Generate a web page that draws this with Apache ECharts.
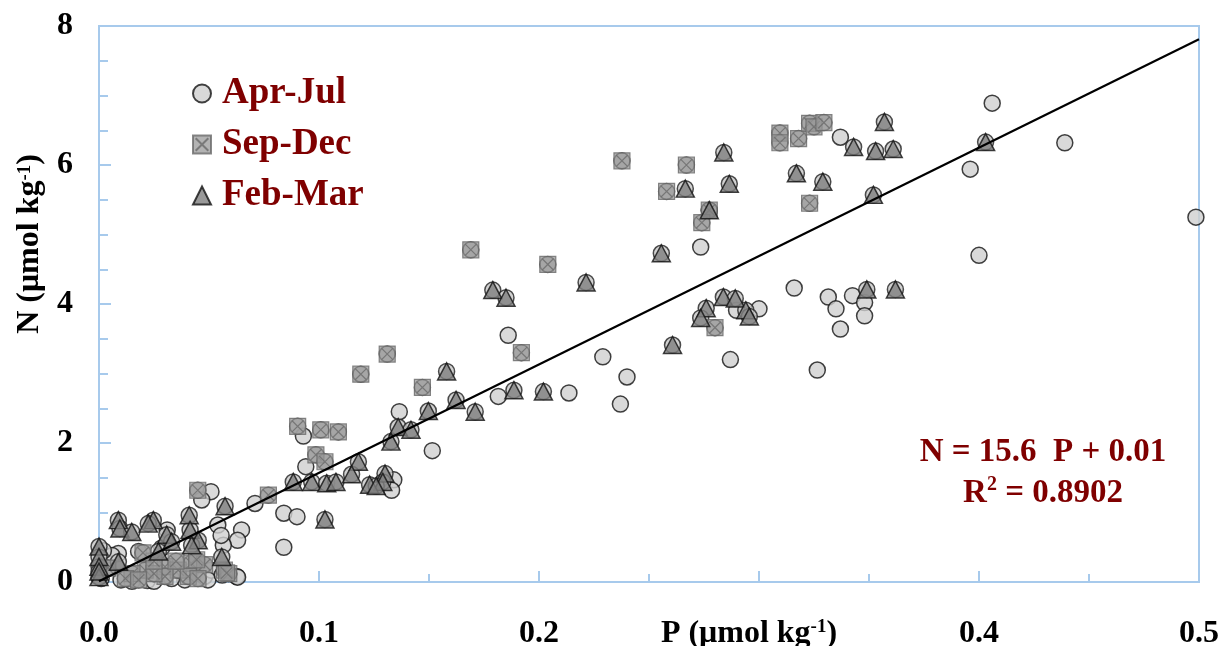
<!DOCTYPE html>
<html>
<head>
<meta charset="utf-8">
<script src="https://cdn.jsdelivr.net/npm/echarts@6/dist/echarts.min.js"></script>
<style>html,body{margin:0;padding:0;background:#fff}#c{width:1227px;height:646px}</style>
</head>
<body>
<div id="c"></div>
<script>
// ---- data (P, N) ----
const aprJul = [
  [0.406,6.89],[0.439,6.32],[0.396,5.94],[0.4986,5.25],[0.400,4.70],
  [0.337,6.40],[0.2735,4.82],[0.316,4.23],
  [0.2898,3.91],[0.300,3.93],
  [0.3315,4.10],[0.3425,4.12],[0.348,4.02],[0.335,3.93],[0.348,3.83],[0.337,3.64],
  [0.3265,3.05],[0.287,3.20],[0.229,3.24],[0.240,2.95],[0.237,2.56],
  [0.2136,2.72],[0.1815,2.67],[0.186,3.55],
  [0.1365,2.45],[0.1515,1.89],[0.0929,2.10],[0.094,1.66],[0.134,1.47],[0.133,1.32],
  [0.084,0.99],[0.090,0.94],[0.084,0.50],
  [0.0509,1.30],[0.0467,1.18],[0.0709,1.13],[0.054,0.82],[0.0648,0.75],[0.063,0.60],
  [0.0565,0.53],[0.0555,0.67],[0.031,0.75],[0.0285,0.49],
  [0.0088,0.41],[0.018,0.44],[0.006,0.38],[0.002,0.45],[0.001,0.05],
  [0.0436,0.12],[0.048,0.08],[0.051,0.17],[0.0626,0.08],[0.063,0.07],[0.039,0.03],
  [0.0495,0.03],[0.0415,0.15],[0.022,0.02],[0.010,0.03],[0.015,0.01],[0.025,0.01],
  [0.056,0.10],[0.033,0.05]
];
const sepDec = [
  [0.3095,6.46],[0.3095,6.32],[0.318,6.38],[0.323,6.60],[0.325,6.55],[0.3295,6.61],
  [0.323,5.45],[0.2377,6.06],[0.267,6.00],[0.258,5.62],[0.2774,5.35],[0.274,5.17],[0.280,3.66],
  [0.169,4.78],[0.204,4.57],[0.192,3.30],
  [0.131,3.28],[0.119,2.99],[0.147,2.80],
  [0.0903,2.24],[0.1008,2.19],[0.1088,2.16],[0.0986,1.83],[0.1027,1.73],
  [0.077,1.25],[0.0449,1.32],
  [0.021,0.17],[0.030,0.22],[0.036,0.17],[0.042,0.27],[0.030,0.08],[0.015,0.12],
  [0.025,0.12],[0.0406,0.08],[0.057,0.17],[0.059,0.12],[0.048,0.25],[0.035,0.30],
  [0.025,0.30],[0.012,0.05],[0.045,0.05],[0.0444,0.32],[0.020,0.42],[0.058,0.13],
  [0.004,0.20],[0.018,0.03]
];
const febMar = [
  [0.357,6.62],[0.343,6.26],[0.353,6.20],[0.361,6.23],[0.403,6.33],
  [0.317,5.88],[0.329,5.76],[0.352,5.57],
  [0.284,6.18],[0.2665,5.66],[0.2865,5.73],[0.2774,5.35],
  [0.2556,4.73],[0.2214,4.31],
  [0.2838,4.10],[0.2892,4.08],[0.276,3.94],[0.2735,3.80],[0.294,3.91],[0.2956,3.82],
  [0.2607,3.41],[0.349,4.21],[0.362,4.21],
  [0.179,4.20],[0.185,4.09],[0.158,3.03],
  [0.202,2.74],[0.1886,2.76],[0.1623,2.62],[0.171,2.45],
  [0.1497,2.46],[0.136,2.23],[0.1418,2.19],[0.1327,2.02],
  [0.1179,1.73],[0.1148,1.55],[0.0883,1.44],[0.0967,1.44],[0.1035,1.42],[0.1077,1.44],
  [0.130,1.56],[0.129,1.44],[0.123,1.40],[0.126,1.38],
  [0.1027,0.90],
  [0.0573,1.09],[0.041,0.96],[0.0414,0.75],[0.0088,0.89],[0.0095,0.77],[0.0149,0.72],
  [0.0247,0.89],[0.0224,0.84],[0.0308,0.68],[0.0451,0.60],[0.0421,0.53],[0.0558,0.36],
  [0.027,0.44],[0.0088,0.29],[0.033,0.58],
  [0.000,0.51],[0.000,0.36],[0.000,0.22],[0.000,0.07],[0.000,0.15]
];
const fitLine = [[0,0.01],[0.5,7.81]];
const seriesNames = ['Apr-Jul','Sep-Dec','Feb-Mar'];
const xTickLabels = ['0.0','0.1','0.2','P (μmol kg-1)','0.4','0.5'];
const yTickLabels = ['0','2','4','6','8'];
const eqLine1 = 'N = 15.6  P + 0.01';
const eqLine2 = '0.8902';

const FONT = "'Liberation Serif','Times New Roman',serif";
const RED = '#7f0000';
const FRAME = '#a7caec';
const sqX = 'path://M0,0H20V20H0Z M3,3L17,17 M17,3L3,17';

const titleRich = {
  t:{fontFamily:FONT,fontWeight:'bold',fontSize:32,color:'#000',lineHeight:28},
  s:{fontFamily:FONT,fontWeight:'bold',fontSize:19,color:'#000',verticalAlign:'top'},
  p:{width:20}
};

const chart = echarts.init(document.getElementById('c'), null, {renderer:'canvas'});
chart.setOption({
  animation:false,
  backgroundColor:'#fff',
  grid:{left:99,right:28,top:26,bottom:64,show:true,borderColor:FRAME,borderWidth:2,
        backgroundColor:'transparent',containLabel:false,outerBoundsMode:'none'},
  legend:{
    orient:'vertical', left:187, top:70, itemGap:14, itemWidth:18, itemHeight:18,
    data:seriesNames,
    textStyle:{fontFamily:FONT,fontWeight:'bold',fontSize:37,color:RED,padding:[0,0,0,6]}
  },
  xAxis:{
    type:'value', min:0, max:0.5, interval:0.1,
    axisLine:{show:true,lineStyle:{color:FRAME,width:2}},
    axisTick:{show:true,inside:true,length:11,lineStyle:{color:FRAME,width:2}},
    minorTick:{show:true,splitNumber:2,length:8,lineStyle:{color:FRAME,width:2}},
    splitLine:{show:false},
    axisLabel:{
      margin:36, color:'#000', fontFamily:FONT, fontWeight:'bold', fontSize:32,
      formatter:function(v){
        const i = Math.round(v*10);
        const t = xTickLabels[i];
        if (t && t.indexOf('P')===0) return '{t|P (μmol kg}{s|-1}{t|)}{p|}';
        return t;
      },
      rich:titleRich
    }
  },
  yAxis:{
    type:'value', min:0, max:8, interval:2,
    name:'{t|N (μmol kg}{s|-1}{t|)}', nameLocation:'middle', nameRotate:90, nameGap:55,
    nameTextStyle:{rich:titleRich, padding:[0,0,0,120]},
    axisLine:{show:true,lineStyle:{color:FRAME,width:2}},
    axisTick:{show:true,inside:true,length:12,lineStyle:{color:FRAME,width:2}},
    minorTick:{show:true,splitNumber:4,length:9,lineStyle:{color:FRAME,width:2}},
    splitLine:{show:false},
    axisLabel:{
      margin:26, color:'#000', fontFamily:FONT, fontWeight:'bold', fontSize:32,
      formatter:function(v){ return yTickLabels[Math.round(v/2)]; }
    }
  },
  series:[
    {name:'Apr-Jul', type:'scatter', data:aprJul, symbol:'circle', symbolSize:16, z:2,
     itemStyle:{color:'#cfcfcf',borderColor:'#111',borderWidth:1.5}},
    {name:'_under', type:'scatter', data:sepDec.concat(febMar), symbol:'circle', symbolSize:16, z:3,
     itemStyle:{color:'#c6c6c6',borderColor:'#222',borderWidth:1.5}},
    {name:'Sep-Dec', type:'scatter', data:sepDec, symbol:sqX, symbolSize:16, z:4,
     itemStyle:{color:'rgba(150,150,150,0.9)',borderColor:'#6a6a6a',borderWidth:1.2}},
    {name:'Feb-Mar', type:'scatter', data:febMar, symbol:'triangle', symbolSize:[18,17], z:5,
     itemStyle:{color:'#7f7f7f',borderColor:'#111',borderWidth:1.5}},
    {name:'fit', type:'line', data:fitLine, symbol:'none', z:6,
     lineStyle:{color:'#000',width:2.2}}
  ],
  graphic:[
    {type:'text', x:1043, y:452, z:10,
     style:{text:eqLine1, x:0, y:0, align:'center', verticalAlign:'middle',
            font:"bold 33px 'Liberation Serif','Times New Roman',serif", fill:RED}},
    {type:'text', x:1043, y:493, z:10,
     style:{text:'{a|R}{s|2}{a| = '+eqLine2+'}', x:0, y:0, align:'center', verticalAlign:'middle',
            rich:{a:{fontFamily:FONT,fontWeight:'bold',fontSize:33,fill:RED,color:RED},
                  s:{fontFamily:FONT,fontWeight:'bold',fontSize:20,fill:RED,color:RED,verticalAlign:'bottom',padding:[0,0,16,0]}}}}
  ]
});
</script>
</body>
</html>
